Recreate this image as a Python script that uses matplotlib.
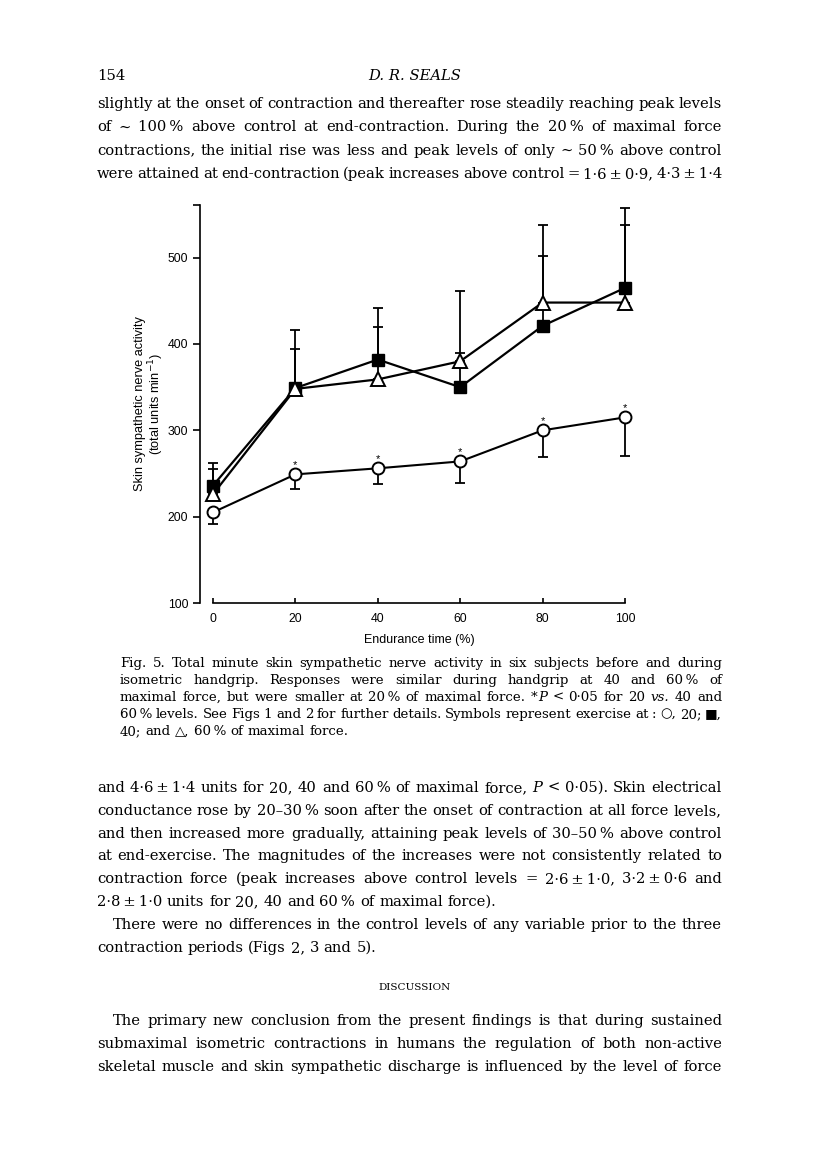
import matplotlib
matplotlib.use("Agg")
import matplotlib.pyplot as plt

# endurance time (%)
time_pct = [0, 20, 40, 60, 80, 100]

# skin sympathetic nerve activity (total units / min), means and one-sided SE
force20 = [205, 249, 256, 264, 300, 315]
force20_se = [13, 17, 18, 25, 31, 45]
force40 = [236, 349, 382, 350, 421, 465]
force40_se = [26, 67, 60, 39, 117, 92]
force60 = [226, 348, 359, 380, 448, 448]
force60_se = [29, 46, 61, 81, 54, 90]
signif = [False, True, True, True, True, True]

yticks = [100, 200, 300, 400, 500]
xticks = [0, 20, 40, 60, 80, 100]

SERIF = ["DejaVu Serif", "DejaVu Sans"]
SANS = ["Liberation Sans", "DejaVu Sans"]

para1 = [
    "slightly at the onset of contraction and thereafter rose steadily reaching peak levels",
    "of ∼ 100 % above control at end-contraction. During the 20 % of maximal force",
    "contractions, the initial rise was less and peak levels of only ∼ 50 % above control",
    "were attained at end-contraction (peak increases above control = 1·6 ± 0·9, 4·3 ± 1·4",
]
caption = [
    "Fig. 5. Total minute skin sympathetic nerve activity in six subjects before and during",
    "isometric handgrip. Responses were similar during handgrip at 40 and 60 % of",
    "maximal force, but were smaller at 20 % of maximal force. *|~P < 0·05 for 20 ~vs. 40 and",
    "60 % levels. See Figs 1 and 2 for further details. Symbols represent exercise at : ○, 20; ■,",
    "40; and △, 60 % of maximal force.",
]
para2 = [
    "and 4·6 ± 1·4 units for 20, 40 and 60 % of maximal force, ~P < 0·05). Skin electrical",
    "conductance rose by 20–30 % soon after the onset of contraction at all force levels,",
    "and then increased more gradually, attaining peak levels of 30–50 % above control",
    "at end-exercise. The magnitudes of the increases were not consistently related to",
    "contraction force (peak increases above control levels = 2·6 ± 1·0, 3·2 ± 0·6 and",
    "2·8 ± 1·0 units for 20, 40 and 60 % of maximal force).",
]
para3 = [
    "There were no differences in the control levels of any variable prior to the three",
    "contraction periods (Figs 2, 3 and 5).",
]
para4 = [
    "The primary new conclusion from the present findings is that during sustained",
    "submaximal isometric contractions in humans the regulation of both non-active",
    "skeletal muscle and skin sympathetic discharge is influenced by the level of force",
]

fig = plt.figure(figsize=(8.16, 11.6), dpi=100)
page = fig.add_axes([0, 0, 1, 1])
page.set_xlim(0, 816)
page.set_ylim(1160, 0)
page.axis("off")
renderer = fig.canvas.get_renderer()


def tokens(line):
    # keep "4·6 ± 1·4" and "100 %" together as one word
    line = line.replace(" ± ", "\u2009±\u2009").replace(" %", "\u2009%")
    return line.split(" ")


def put_line(line, x0, x1, y, size, justify=True):
    words = []
    for w in tokens(line):
        segs = []
        for part in w.split("|"):
            st = "normal"
            if part.startswith("~"):
                st, part = "italic", part[1:]
            t = page.text(0, y, part, fontsize=size, family=SERIF, style=st,
                          va="baseline", ha="left")
            segs.append((t, t.get_window_extent(renderer).width))
        words.append(segs)
    total = sum(w for segs in words for _, w in segs)
    if justify and len(words) > 1:
        gap = (x1 - x0 - total) / (len(words) - 1)
    else:
        gap = size * 0.32 * 100 / 72
    x = x0
    for segs in words:
        for t, w in segs:
            t.set_x(x)
            x += w
        x += gap


def put_par(lines, x0, x1, y0, step, size, indent=0, last_justified=False):
    for i, line in enumerate(lines):
        last = i == len(lines) - 1
        put_line(line, x0 + (indent if i == 0 else 0), x1, y0 + i * step, size,
                 justify=(not last) or last_justified)


L, R = 97, 722
BODY = 10.6
page.text(L, 80, "154", fontsize=BODY, family=SERIF, va="baseline")
page.text(415, 80, "D. R. SEALS", fontsize=BODY, family=SERIF, style="italic",
          ha="center", va="baseline")
put_par(para1, L, R, 108, 23.3, BODY, last_justified=True)
put_par(caption, 120, R, 667, 17, 9.6)
put_par(para2, L, R, 792, 22.8, BODY)
put_par(para3, L, R, 929, 22.8, BODY, indent=16)
page.text(415, 990, "DISCUSSION", fontsize=7.5, family=SERIF, ha="center",
          va="baseline")
put_par(para4, L, R, 1025, 23, BODY, indent=16, last_justified=True)

# chart
ax = fig.add_axes([200 / 816, 1 - 603 / 1160, 440 / 816, 398 / 1160])
ax.set_xlim(-3.155, 103.64)
ax.set_ylim(100, 561)
ax.patch.set_alpha(0)
for s in ["top", "right"]:
    ax.spines[s].set_visible(False)
ax.spines["left"].set_linewidth(1.2)
ax.spines["bottom"].set_linewidth(1.2)
ax.spines["bottom"].set_bounds(0, 100)

ax.errorbar(time_pct, force20, yerr=[force20_se, [0] * 6], fmt="none",
            ecolor="k", elinewidth=1.3, capsize=3.6, capthick=1.3, zorder=2)
ax.errorbar(time_pct, force40, yerr=[[0] * 6, force40_se], fmt="none",
            ecolor="k", elinewidth=1.3, capsize=3.6, capthick=1.3, zorder=2,
            clip_on=False)
ax.errorbar(time_pct, force60, yerr=[[0] * 6, force60_se], fmt="none",
            ecolor="k", elinewidth=1.3, capsize=3.6, capthick=1.3, zorder=2,
            clip_on=False)

ax.plot(time_pct, force20, color="k", lw=1.5, marker="o", ms=8.6, mfc="white",
        mec="k", mew=1.4, zorder=4)
ax.plot(time_pct, force40, color="k", lw=1.6, marker="s", ms=8, mfc="k",
        mec="k", zorder=3)
ax.plot(time_pct, force60, color="k", lw=1.6, marker="^", ms=9.5, mfc="white",
        mec="k", mew=1.4, zorder=3)

for x, y, s in zip(time_pct, force20, signif):
    if s:
        ax.annotate("*", xy=(x, y), xytext=(0, 6.5), textcoords="offset points",
                    ha="center", va="center", fontsize=8, family=SANS)

ax.set_yticks(yticks + [561])
ax.set_yticklabels([str(v) for v in yticks] + [""])
ax.set_xticks(xticks)
ax.set_xticklabels([str(v) for v in xticks])
ax.tick_params(axis="y", direction="out", length=5, width=1.2, pad=3.5,
               labelsize=8.8)
ax.tick_params(axis="x", direction="in", length=3.6, width=1.2, pad=7,
               labelsize=8.8)
for lab in ax.get_xticklabels() + ax.get_yticklabels():
    lab.set_family(SANS)

ax.set_xlabel("Endurance time (%)", fontsize=9, family=SANS, va="center")
ax.xaxis.set_label_coords(0.4977, -0.093)
ax.set_ylabel("Skin sympathetic nerve activity\n(total units min$^{-1}$)",
              fontsize=9.2, family=SANS, va="center", linespacing=1.0)
ax.yaxis.set_label_coords((150 - 200) / 440, 0.5)

fig.savefig("out.png", dpi=100)
